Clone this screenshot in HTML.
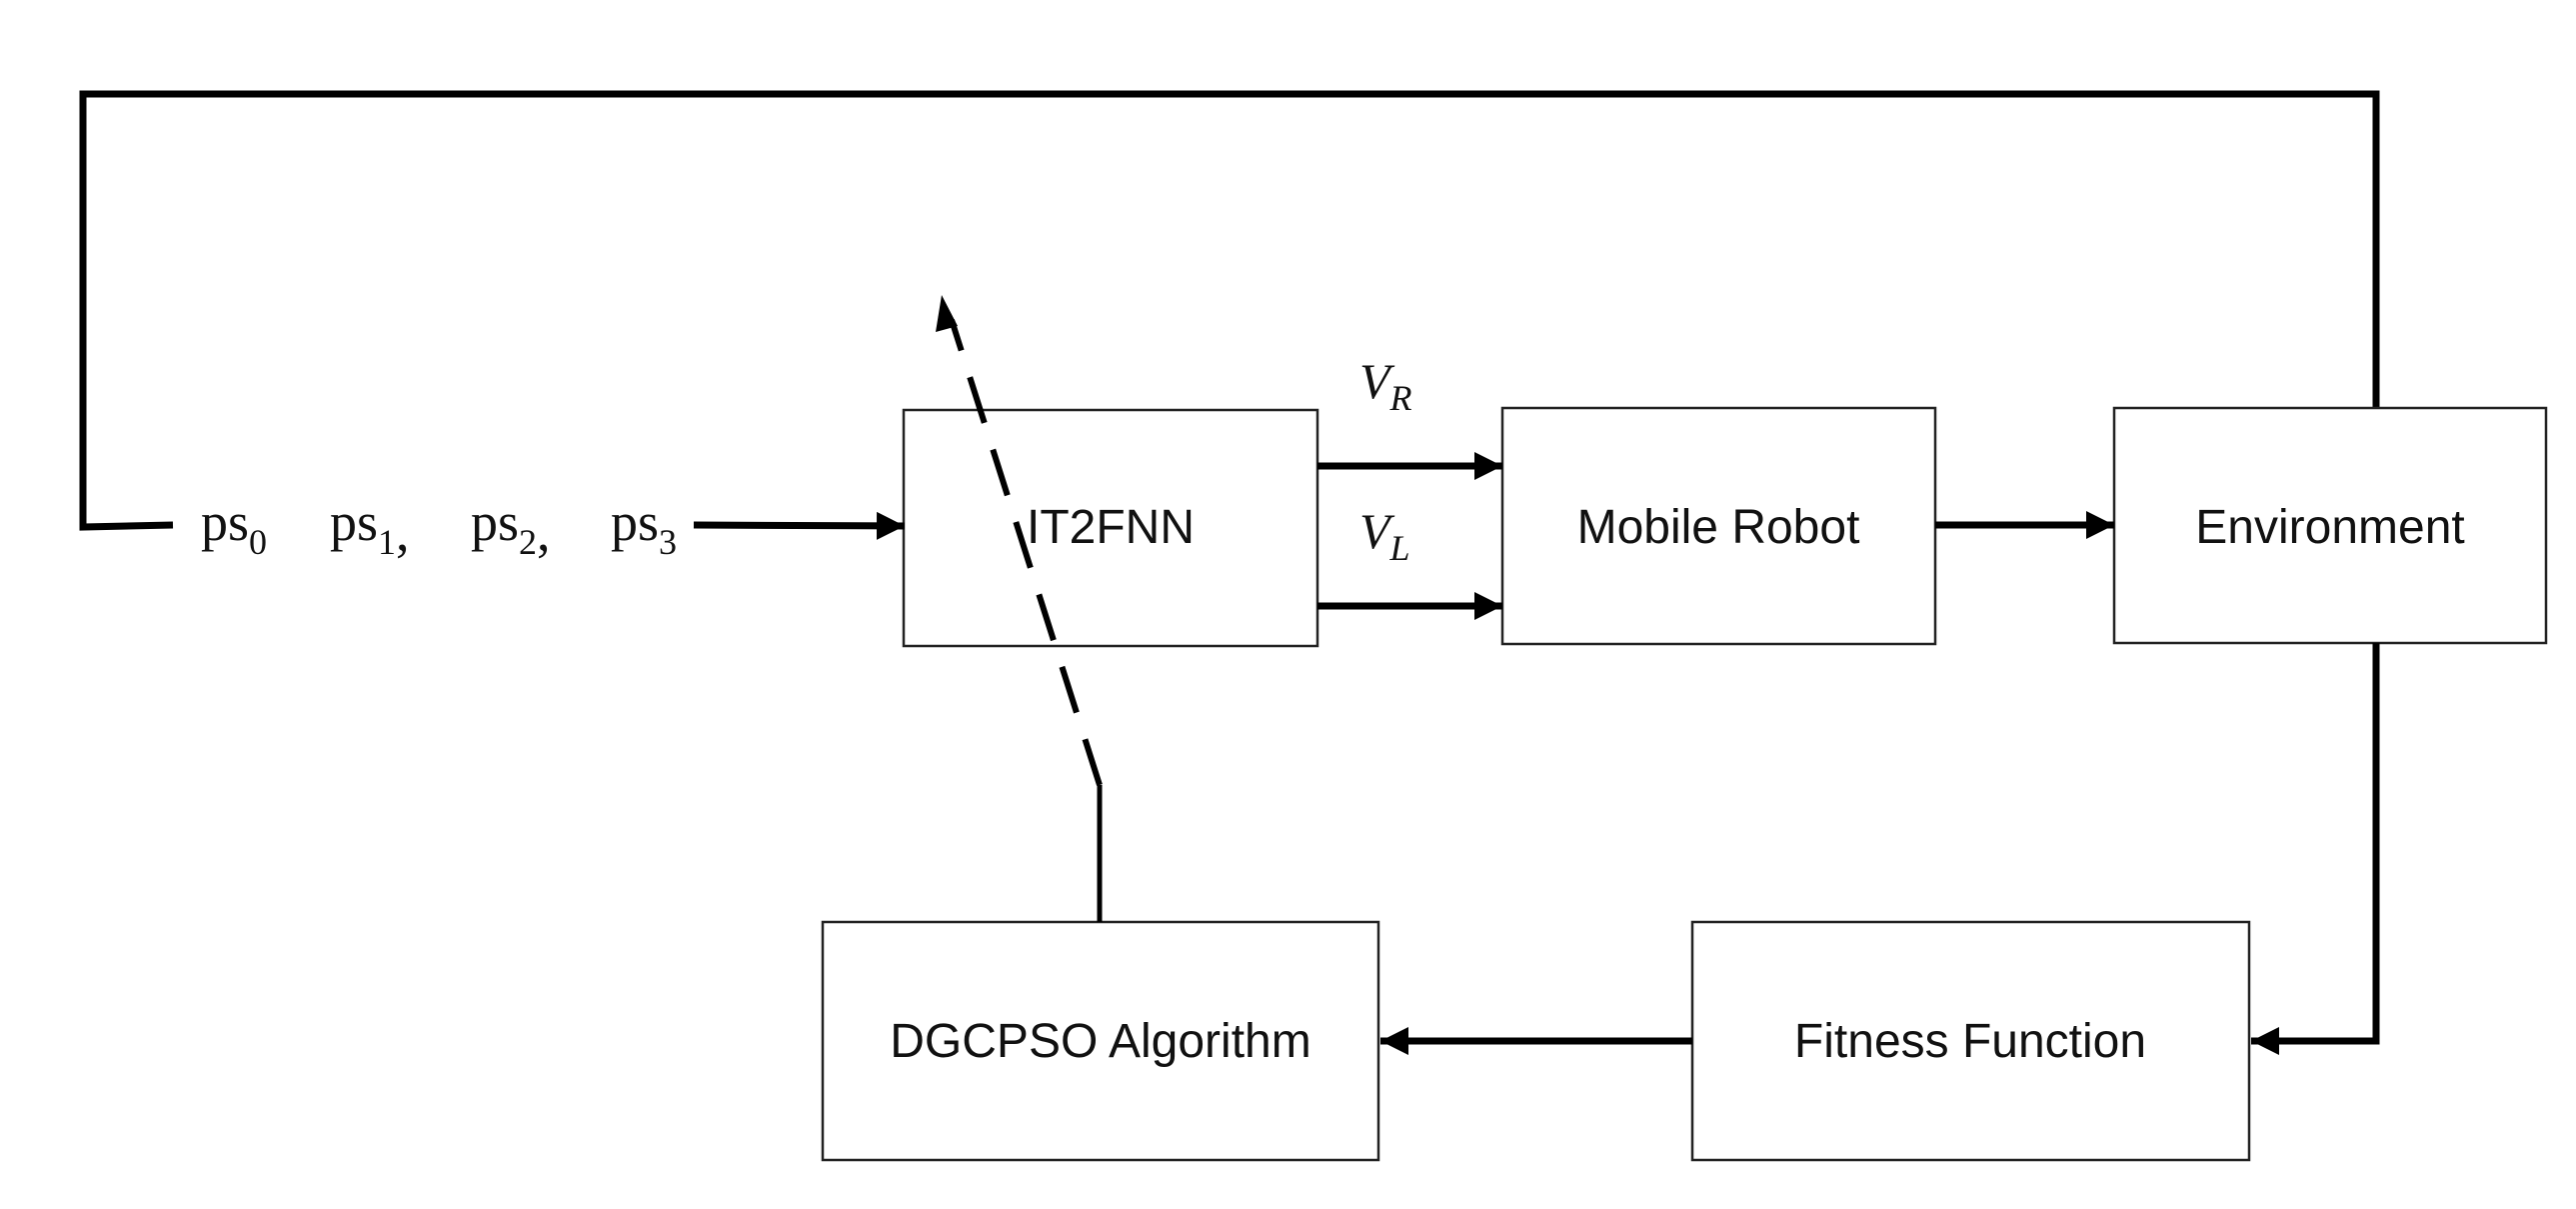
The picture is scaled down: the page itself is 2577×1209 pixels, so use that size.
<!DOCTYPE html>
<html><head><meta charset="utf-8"><style>
html,body{margin:0;padding:0;background:#fff;}
svg{display:block;}
text{font-family:"Liberation Sans",sans-serif;fill:#111;}
</style></head><body>
<svg width="2577" height="1209" viewBox="0 0 2577 1209" xmlns="http://www.w3.org/2000/svg">
<defs>
<marker id="ah" viewBox="0 0 10 10" refX="10" refY="5" markerWidth="4" markerHeight="4" orient="auto" markerUnits="strokeWidth">
<path d="M0,0 L10,5 L0,10 z" fill="#000"/></marker>
</defs>
<polyline points="173,525 83,527 83,94 2377,94 2377,408" fill="none" stroke="#000" stroke-width="7"/>
<g fill="#fff" stroke="#222" stroke-width="2.5">
<rect x="904" y="410" width="414" height="236"/>
<rect x="1503" y="408" width="433" height="236"/>
<rect x="2115" y="408" width="432" height="235"/>
<rect x="1693" y="922" width="557" height="238"/>
<rect x="823" y="922" width="556" height="238"/>
</g>
<g font-size="54" style="font-family:'Liberation Serif',serif">
<text x="201" y="540" style="font-family:'Liberation Serif',serif">ps<tspan font-size="36" dy="14">0</tspan></text>
<text x="330" y="540" style="font-family:'Liberation Serif',serif">ps<tspan font-size="36" dy="14">1</tspan><tspan dy="-4">,</tspan></text>
<text x="471" y="540" style="font-family:'Liberation Serif',serif">ps<tspan font-size="36" dy="14">2</tspan><tspan dy="-4">,</tspan></text>
<text x="611" y="540" style="font-family:'Liberation Serif',serif">ps<tspan font-size="36" dy="14">3</tspan></text>
</g>
<g stroke="#000" stroke-width="7" fill="none" marker-end="url(#ah)">
<line x1="694" y1="525" x2="905" y2="526"/>
<line x1="1318" y1="466" x2="1503" y2="466"/>
<line x1="1318" y1="606" x2="1503" y2="606"/>
<line x1="1936" y1="525" x2="2115" y2="525"/>
<polyline points="2377,643 2377,1041 2252,1041"/>
<line x1="1693" y1="1041" x2="1381" y2="1041"/>
</g>
<line x1="1100" y1="922" x2="1100" y2="785" stroke="#000" stroke-width="5"/>
<line x1="1100" y1="785" x2="952" y2="320" stroke="#000" stroke-width="6" stroke-dasharray="48,28"/>
<polygon points="942,295 936,332 958,326" fill="#000"/>
<g font-size="48" text-anchor="middle">
<text x="1111" y="543">IT2FNN</text>
<text x="1719" y="543">Mobile Robot</text>
<text x="2331" y="543">Environment</text>
<text x="1971" y="1057">Fitness Function</text>
<text x="1101" y="1057">DGCPSO Algorithm</text>
</g>
<text x="1360" y="398" font-size="50" font-style="italic" style="font-family:'Liberation Serif',serif">V<tspan font-size="36" dy="12">R</tspan></text>
<text x="1360" y="548" font-size="50" font-style="italic" style="font-family:'Liberation Serif',serif">V<tspan font-size="36" dy="12">L</tspan></text>
</svg>
</body></html>
